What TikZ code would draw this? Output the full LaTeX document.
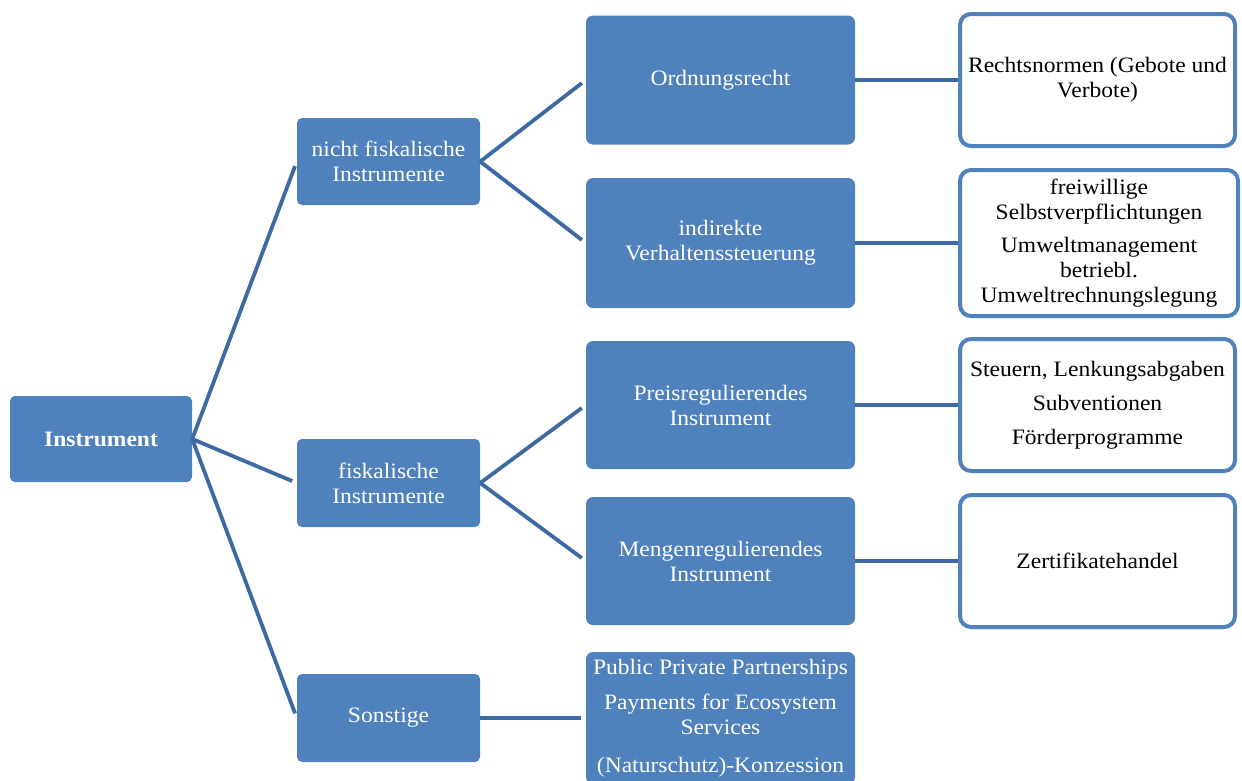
\documentclass[tikz,border=0pt]{standalone}
\usepackage{fontspec}
\setmainfont{Liberation Serif}[FakeStretch=1.07]
\definecolor{boxblue}{RGB}{79,129,189}
\definecolor{lineblue}{RGB}{62,106,163}
\begin{document}
\begin{tikzpicture}[x=1pt,y=-1pt,
  txt/.style={font=\fontsize{22}{25}\selectfont, align=center},
  bluebox/.style={rectangle, rounded corners=7pt, fill=boxblue, text=white, inner sep=0pt, txt},
  whitebox/.style={rectangle, rounded corners=11pt, draw=boxblue, line width=4pt, fill=white, text=black, inner sep=0pt, txt},
  conn/.style={draw=lineblue, line width=3.8pt},
]
\useasboundingbox (0,0) rectangle (1242,780);
% level 1
\node[bluebox, minimum width=182pt, minimum height=86pt, rounded corners=5pt] (inst) at (101,439) {\textbf{Instrument}};
% level 2
\node[bluebox, minimum width=183pt, minimum height=87pt, rounded corners=5pt] (nf) at (388.5,161.5) {nicht fiskalische\\Instrumente};
\node[bluebox, minimum width=183pt, minimum height=88pt, rounded corners=5pt] (fi) at (388.5,483) {fiskalische\\Instrumente};
\node[bluebox, minimum width=183pt, minimum height=88pt, rounded corners=5pt] (so) at (388.5,718) {Sonstige};
% level 3
\node[bluebox, minimum width=269pt, minimum height=129pt] (ord) at (720.5,80) {Ordnungsrecht};
\node[bluebox, minimum width=269pt, minimum height=130pt] (ind) at (720.5,243) {indirekte\\Verhaltenssteuerung};
\node[bluebox, minimum width=269pt, minimum height=128pt] (pre) at (720.5,405) {Preisregulierendes\\Instrument};
\node[bluebox, minimum width=269pt, minimum height=128pt] (men) at (720.5,561) {Mengenregulierendes\\Instrument};
\node[bluebox, minimum width=269pt, minimum height=132pt] (pub) at (720.5,718)
  {Public Private Partnerships\\[10pt]Payments for Ecosystem\\Services\\[13pt](Naturschutz)-Konzession};
% level 4
\node[whitebox, minimum width=275pt, minimum height=132pt] (rn) at (1097.5,80)
  {Rechtsnormen (Gebote und\\Verbote)};
\node[whitebox, minimum width=278pt, minimum height=146pt] (fw) at (1099,243)
  {freiwillige\\Selbstverpflichtungen\\[8pt]Umweltmanagement\\betriebl.\\Umweltrechnungslegung};
\node[whitebox, minimum width=275pt, minimum height=132pt] (st) at (1097.5,405)
  {Steuern, Lenkungsabgaben\\[9pt]Subventionen\\[9pt]Förderprogramme};
\node[whitebox, minimum width=275pt, minimum height=132pt] (ze) at (1097.5,561) {Zertifikatehandel};
% connectors
\draw[conn, shorten >=5pt] (inst.east) -- (nf.west);
\draw[conn, shorten >=5pt] (inst.east) -- (fi.west);
\draw[conn, shorten >=5pt] (inst.east) -- (so.west);
\draw[conn, shorten >=5pt] (nf.east) -- (ord.west);
\draw[conn, shorten >=5pt] (nf.east) -- (ind.west);
\draw[conn, shorten >=5pt] (fi.east) -- (pre.west);
\draw[conn, shorten >=5pt] (fi.east) -- (men.west);
\draw[conn, shorten >=5pt] (so.east) -- (pub.west);
\draw[conn] (ord.east) -- (rn.west);
\draw[conn] (ind.east) -- (fw.west);
\draw[conn] (pre.east) -- (st.west);
\draw[conn] (men.east) -- (ze.west);
\end{tikzpicture}
\end{document}
